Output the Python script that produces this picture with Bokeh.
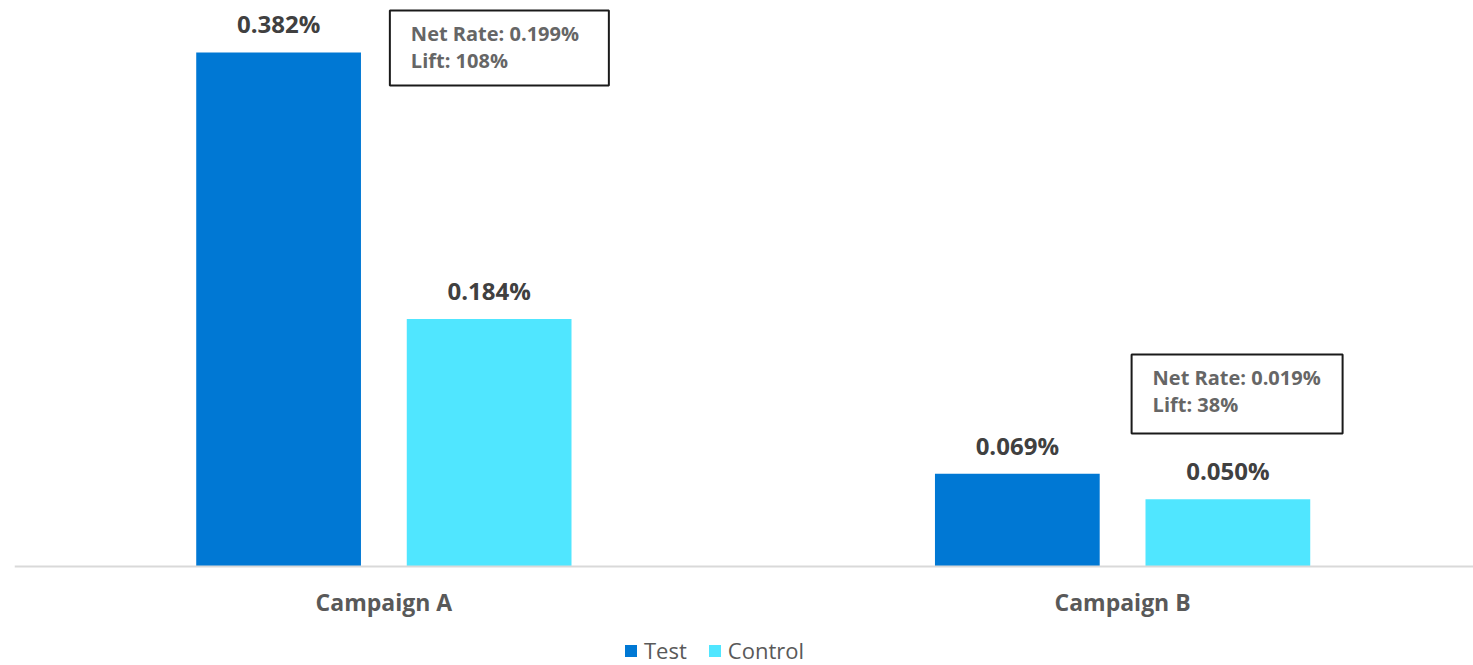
from bokeh.plotting import figure
from bokeh.models import (ColumnDataSource, Range1d, FixedTicker, LabelSet, Label,
                          BoxAnnotation, Legend, LegendItem)
from bokeh.core.properties import value
from bokeh.embed import file_html
from bokeh.resources import INLINE

# ---- data ----
categories = ["Campaign A", "Campaign B"]
test_rate = [0.382, 0.069]
control_rate = [0.184, 0.050]
net_rate = [0.199, 0.019]
lift_pct = [108, 38]
series_names = ["Test", "Control"]

# ---- style / layout ----
TEST_COLOR = "#0078D4"
CONTROL_COLOR = "#50E6FF"
FONT = "Open Sans"
FRAME_W, FRAME_H = 1459, 657
PLOT_H = 558          # px between top of frame and the zero line
X_END = 1.975
Y_END = 0.4147
BAR_W = 0.223
OFFSET = 0.1425

px_x = FRAME_W / X_END
px_y = PLOT_H / Y_END
Y_START = -(FRAME_H - PLOT_H) / px_y

centers = [i + 0.5 for i in range(len(categories))]

src_test = ColumnDataSource(dict(
    x=[c - OFFSET for c in centers], top=test_rate,
    lbl=[f"{v:.3f}%" for v in test_rate]))
src_ctrl = ColumnDataSource(dict(
    x=[c + OFFSET for c in centers], top=control_rate,
    lbl=[f"{v:.3f}%" for v in control_rate]))

p = figure(frame_width=FRAME_W, frame_height=FRAME_H,
           x_range=Range1d(0, X_END), y_range=Range1d(Y_START, Y_END),
           output_backend="svg", toolbar_location=None,
           min_border_left=14, min_border_right=0, min_border_top=8,
           min_border_bottom=0)
p.outline_line_color = None
p.background_fill_color = "white"
p.border_fill_color = "white"
p.xgrid.visible = False
p.ygrid.visible = False
p.yaxis.visible = False

r_test = p.vbar(x="x", top="top", bottom=0, width=BAR_W, source=src_test,
                fill_color=TEST_COLOR, line_color=None)
r_ctrl = p.vbar(x="x", top="top", bottom=0, width=BAR_W, source=src_ctrl,
                fill_color=CONTROL_COLOR, line_color=None)

xa = p.xaxis[0]
xa.fixed_location = 0
xa.ticker = FixedTicker(ticks=centers)
xa.major_label_overrides = {c: n for c, n in zip(centers, categories)}
xa.major_tick_line_color = None
xa.minor_tick_line_color = None
xa.major_tick_in = 0
xa.major_tick_out = 0
xa.axis_line_color = "#d9d9d9"
xa.axis_line_width = 2
xa.major_label_standoff = 19
xa.major_label_text_font = FONT
xa.major_label_text_font_style = "bold"
xa.major_label_text_font_size = "23px"
xa.major_label_text_color = "#595959"

for src in (src_test, src_ctrl):
    p.add_layout(LabelSet(x="x", y="top", text="lbl", source=src,
                          text_align="center", text_baseline="alphabetic",
                          y_offset=19, text_font=value(FONT), text_font_style="bold",
                          text_font_size="24px", text_color="#404040"))

# annotation boxes (pixel layout relative to each category centre / baseline)
box_px = [  # left, right offsets from category centre; top, bottom above baseline (px)
    (6, 225, 556, 481),
    (9, 220, 212, 133),
]
for i, (l, r, t, b) in enumerate(box_px):
    c = centers[i]
    left = c + l / px_x
    right = c + r / px_x
    top = t / px_y
    bottom = b / px_y
    p.add_layout(BoxAnnotation(left=left, right=right, top=top, bottom=bottom,
                               fill_color="white", fill_alpha=1.0,
                               line_color="#1a1a1a", line_width=2, line_alpha=1.0))
    lines = [f"Net Rate: {net_rate[i]:.3f}%", f"Lift: {lift_pct[i]}%"]
    for j, txt in enumerate(lines):
        p.add_layout(Label(x=left, y=top, text=txt, x_offset=21,
                           y_offset=-(23 + 27 * j),
                           text_align="left", text_baseline="alphabetic",
                           text_font=FONT, text_font_style="bold",
                           text_font_size="20px", text_color="#666666"))

legend = Legend(items=[LegendItem(label=series_names[0], renderers=[r_test]),
                       LegendItem(label=series_names[1], renderers=[r_ctrl])],
                orientation="horizontal", location=(609, 0),
                margin=0, padding=0, spacing=20, label_standoff=6,
                glyph_width=15, glyph_height=15, label_height=22,
                label_text_font=FONT, label_text_font_size="22px",
                label_text_color="#595959",
                border_line_color=None, background_fill_alpha=0)
p.add_layout(legend, "center")

open("out.html", "w").write(file_html(p, INLINE))
